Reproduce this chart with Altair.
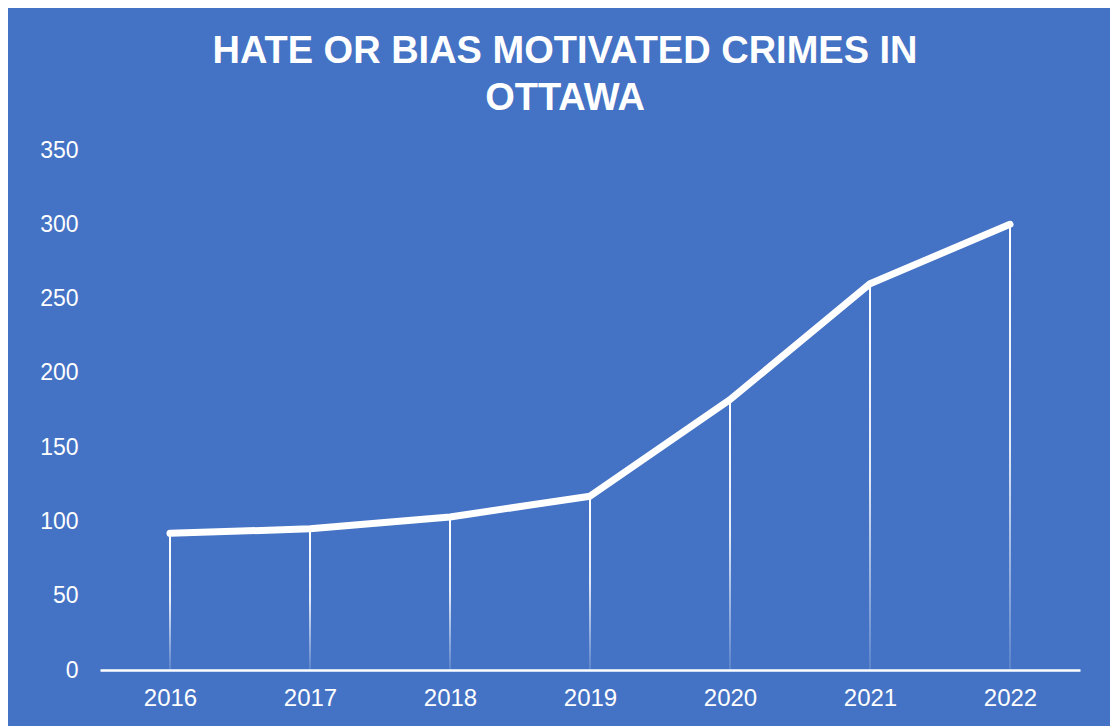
import altair as alt
import pandas as pd

years = ["2016", "2017", "2018", "2019", "2020", "2021", "2022"]
crimes = [92, 95, 103, 117, 182, 260, 300]
title_lines = ["HATE OR BIAS MOTIVATED CRIMES IN", "OTTAWA"]

df = pd.DataFrame({"year": years, "crimes": crimes})

BG = "#4472C4"
FONT = "Liberation Sans"

x = alt.X("year:N", title=None, sort=years,
          scale=alt.Scale(type="point", padding=0.5),
          axis=alt.Axis(labelAngle=0, labelFontSize=24, labelColor="white",
                        labelFont=FONT, labelPadding=16, ticks=False,
                        domainColor="white", domainWidth=2.5, grid=False))
y = alt.Y("crimes:Q", title=None,
          scale=alt.Scale(domain=[0, 350], nice=False),
          axis=alt.Axis(values=[0, 50, 100, 150, 200, 250, 300, 350],
                        labelFontSize=23, labelColor="white", labelFont=FONT,
                        labelPadding=22, ticks=False, domain=False, grid=False))

gradient = alt.LinearGradient(
    gradient="linear",
    stops=[alt.GradientStop(color="#ffffff", offset=0),
           alt.GradientStop(color="rgba(255,255,255,0.85)", offset=0.5),
           alt.GradientStop(color="rgba(255,255,255,0.12)", offset=1)],
    x1=0, x2=0, y1=0, y2=1)

drops = alt.Chart(df).mark_bar(size=2, color=gradient).encode(
    x=x, y=y, y2=alt.datum(0))

line = alt.Chart(df).mark_line(color="white", strokeWidth=7,
                               strokeCap="round", strokeJoin="round").encode(
    x=x, y=y)

chart = alt.layer(drops, line).properties(
    width=980, height=520,
    background=BG,
    padding={"left": 92, "top": 142, "right": 30, "bottom": 56},
    autosize=alt.AutoSizeParams(type="none"),
    title=alt.TitleParams(text=title_lines, font=FONT, fontSize=38,
                          fontWeight="bold", color="white", anchor="middle",
                          frame="group", dx=-25, offset=21, lineHeight=47),
).configure_view(stroke=None)

chart.save("out.html", embed_options={"renderer": "svg", "actions": False})
